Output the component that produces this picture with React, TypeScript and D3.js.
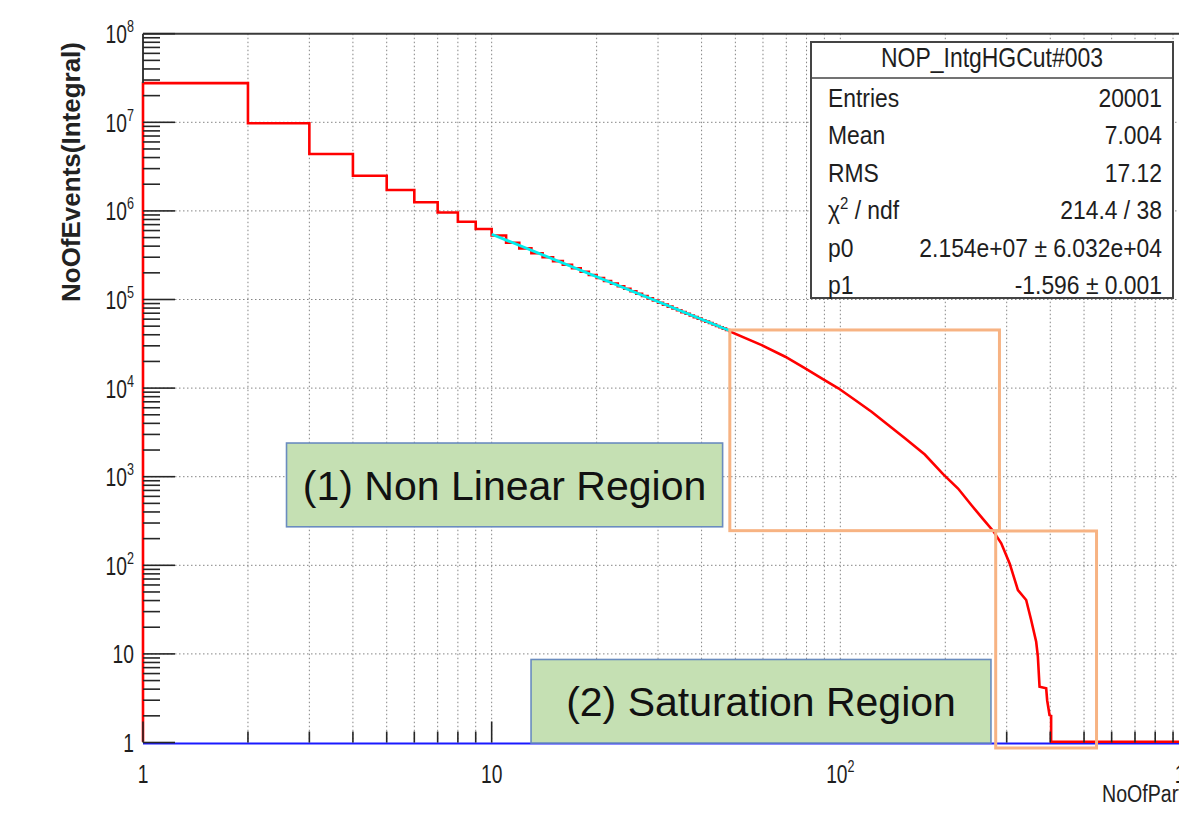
import { useEffect, useRef } from 'react';
import * as d3 from 'd3';

const W = 1179;
const H = 821;

// integral histogram, unit-width bins with lower edges 1, 2, ..., 47
const BIN_FIRST_EDGE = 1;
const BIN_COUNTS = [
  27700000, 9750000, 4380000, 2490000, 1720000, 1250000, 960000, 755000, 625000,
  528000, 437000, 378000, 333000, 300000, 271000, 247000, 225000, 206000, 189000,
  175000, 162000, 151000, 141000, 132000, 124000, 116000, 109500, 103000, 97500,
  92000, 87500, 83000, 79000, 75500, 72000, 69000, 66000, 63300, 60800,
  58400, 56200, 54200, 52200, 50300, 48600, 46900, 45300,
];

// past x ~ 48 the bins are narrower than a pixel, so the rest is read as a polyline
const TAIL_X = [48, 59.5, 69.5, 79.3, 88.4, 98.7, 110.2, 122.9, 137.2, 153.2, 174.7, 197.1, 217.6,
  237.5, 256, 274, 289.4, 305.9, 323.1, 341.2, 352.6, 364.5, 368.6, 372.7, 389.4, 391.9,
  398.1, 402.3, 402.3];
const TAIL_Y = [44000, 30600, 22600, 16700, 12900, 9950, 7340, 5420, 3835, 2710, 1780, 1070, 735,
  479, 337, 246, 177, 105, 52.6, 40.6, 24.1, 13.7, 9.3, 4.26, 4.09, 3.0,
  2.04, 2.0, 1];

// power-law fit p0 * x^p1 over [10, 48]
const FIT_P0 = 2.154e7;
const FIT_P1 = -1.596;
const FIT_RANGE = [10, 48];

const STATS_TITLE = 'NOP_IntgHGCut#003';
const STATS_LABELS = ['Entries', 'Mean', 'RMS', 'chi2', 'p0', 'p1'];
const STATS_VALUES = ['20001', '7.004', '17.12', '214.4 / 38', '2.154e+07 ± 6.032e+04', '-1.596 ± 0.001'];

// annotation boxes, in data coordinates
const REGION_LABELS = ['(1) Non Linear Region', '(2) Saturation Region'];
const REGION_X = [[2.58, 45.96], [12.97, 270.4]];
const REGION_Y = [[272, 2399], [0.987, 8.65]];
const HIGHLIGHT_X = [[48.2, 286], [279, 543]];
const HIGHLIGHT_Y = [[246, 45300], [0.867, 244]];

const X_TITLE = 'NoOfParticles';
const Y_TITLE = 'NoOfEvents(Integral)';

const FONT = '"Liberation Sans", Arial, sans-serif';

export default function App() {
  const ref = useRef<SVGSVGElement>(null);

  useEffect(() => {
    const svg = d3.select(ref.current);
    svg.selectAll('*').remove();

    const left = 143, right = 1189, top = 33.7, bottom = 742.5;
    const x = d3.scaleLog().domain([1, 1000]).range([left, right]);
    const y = d3.scaleLog().domain([1, 1e8]).range([bottom, top]);

    svg.append('rect').attr('width', W).attr('height', H).attr('fill', '#fff');

    const xTicks: { v: number; major: boolean }[] = [];
    for (let d = 0; d < 3; d++) for (let m = 1; m <= 9; m++) xTicks.push({ v: m * 10 ** d, major: m === 1 });
    xTicks.push({ v: 1000, major: true });
    const yTicks: { v: number; major: boolean }[] = [];
    for (let d = 0; d < 8; d++) for (let m = 1; m <= 9; m++) yTicks.push({ v: m * 10 ** d, major: m === 1 });
    yTicks.push({ v: 1e8, major: true });

    // dotted grid
    const grid = svg.append('g').attr('stroke', '#858585').attr('stroke-width', 1).attr('stroke-dasharray', '1.5,2.5');
    xTicks.filter((t) => t.v > 1 && t.v < 1000).forEach((t) => {
      grid.append('line').attr('x1', x(t.v)).attr('x2', x(t.v)).attr('y1', top).attr('y2', bottom);
    });
    yTicks.filter((t) => t.major && t.v > 1 && t.v < 1e8).forEach((t) => {
      grid.append('line').attr('x1', left).attr('x2', right).attr('y1', y(t.v)).attr('y2', y(t.v));
    });

    // blue histogram sitting on the minimum
    svg.append('line')
      .attr('x1', left).attr('x2', right)
      .attr('y1', y(1) + 1).attr('y2', y(1) + 1)
      .attr('stroke', '#1a1aff').attr('stroke-width', 2.2);

    // red integral histogram
    const pts: [number, number][] = [[BIN_FIRST_EDGE, 1]];
    BIN_COUNTS.forEach((c, i) => {
      pts.push([BIN_FIRST_EDGE + i, c]);
      pts.push([BIN_FIRST_EDGE + i + 1, c]);
    });
    TAIL_X.forEach((tx, i) => pts.push([tx, TAIL_Y[i]]));
    pts.push([1000, 1]);
    const line = d3.line<[number, number]>().x((d) => x(d[0])).y((d) => y(d[1]) - (d[1] === 1 ? 0.8 : 0));
    svg.append('path')
      .datum(pts)
      .attr('d', line)
      .attr('fill', 'none')
      .attr('stroke', '#ff0000')
      .attr('stroke-width', 2.6)
      .attr('stroke-linejoin', 'miter');

    // fit
    const fitPts: [number, number][] = FIT_RANGE.map((v) => [v, FIT_P0 * Math.pow(v, FIT_P1)]);
    svg.append('path')
      .datum(fitPts)
      .attr('d', d3.line<[number, number]>().x((d) => x(d[0])).y((d) => y(d[1])))
      .attr('fill', 'none')
      .attr('stroke', '#00eeee')
      .attr('stroke-width', 2.8);

    // frame
    const frame = svg.append('g').attr('stroke', '#3a3a3a').attr('fill', 'none');
    frame.append('line').attr('x1', left).attr('x2', right).attr('y1', top).attr('y2', top).attr('stroke-width', 2);
    frame.append('line').attr('x1', left).attr('x2', left).attr('y1', top).attr('y2', y(BIN_COUNTS[0])).attr('stroke-width', 2);

    // ticks
    const ticks = svg.append('g').attr('stroke', '#262626').attr('stroke-width', 1.6);
    yTicks.forEach((t) => {
      const len = t.major ? 32 : 17;
      ticks.append('line').attr('x1', left).attr('x2', left + len).attr('y1', y(t.v)).attr('y2', y(t.v));
    });
    xTicks.forEach((t) => {
      const len = t.major ? 21 : 11;
      ticks.append('line').attr('x1', x(t.v)).attr('x2', x(t.v)).attr('y1', bottom).attr('y2', bottom - len);
    });

    // tick labels: "1", "10", "10^n"
    const powLabel = (px: number, py: number, n: number, anchor: string) => {
      const t = svg.append('text')
        .attr('transform', `translate(${px},${py}) scale(0.74,1)`)
        .attr('text-anchor', anchor)
        .attr('font-family', FONT)
        .attr('font-size', 26)
        .attr('fill', '#1e1e1e');
      if (n === 0) t.text('1');
      else if (n === 1) t.text('10');
      else {
        t.append('tspan').text('10');
        t.append('tspan').attr('font-size', 17).attr('dy', -11).text(String(n));
      }
    };
    for (let n = 0; n <= 8; n++) powLabel(134, y(10 ** n) + 9.5, n, 'end');
    for (let n = 0; n <= 3; n++) powLabel(x(10 ** n), 783, n, 'middle');

    // axis titles
    svg.append('text')
      .attr('transform', `translate(1102,802) scale(0.8,1)`)
      .attr('font-family', FONT).attr('font-size', 24.5).attr('fill', '#222')
      .text(X_TITLE);
    svg.append('text')
      .attr('transform', 'translate(80,42) rotate(-90)')
      .attr('text-anchor', 'end')
      .attr('font-family', FONT).attr('font-size', 26).attr('font-weight', 'bold').attr('fill', '#222')
      .text(Y_TITLE);

    // stats box
    const sb = { x0: 811, x1: 1173, y0: 42, y1: 298, sep: 78 };
    const stats = svg.append('g');
    stats.append('rect')
      .attr('x', sb.x0).attr('y', sb.y0).attr('width', sb.x1 - sb.x0).attr('height', sb.y1 - sb.y0)
      .attr('fill', '#fff').attr('stroke', '#444').attr('stroke-width', 2);
    stats.append('line').attr('x1', sb.x0).attr('x2', sb.x1).attr('y1', sb.sep).attr('y2', sb.sep)
      .attr('stroke', '#444').attr('stroke-width', 1.5);
    stats.append('text')
      .attr('transform', `translate(${(sb.x0 + sb.x1) / 2},67) scale(0.82,1)`)
      .attr('text-anchor', 'middle')
      .attr('font-family', FONT).attr('font-size', 28).attr('fill', '#1e1e1e')
      .text(STATS_TITLE);
    STATS_LABELS.forEach((lab, i) => {
      const by = 107 + i * 37.4;
      const lt = stats.append('text')
        .attr('transform', `translate(828,${by}) scale(0.88,1)`)
        .attr('font-family', FONT).attr('font-size', 26).attr('fill', '#1e1e1e');
      if (lab === 'chi2') {
        lt.append('tspan').text('χ');
        lt.append('tspan').attr('font-size', 17).attr('dy', -10).text('2');
        lt.append('tspan').attr('dy', 10).text(' / ndf');
      } else lt.text(lab);
      stats.append('text')
        .attr('transform', `translate(1162,${by}) scale(0.88,1)`)
        .attr('text-anchor', 'end')
        .attr('font-family', FONT).attr('font-size', 26).attr('fill', '#1e1e1e')
        .text(STATS_VALUES[i]);
    });

    // orange highlight boxes
    HIGHLIGHT_X.forEach((hx, i) => {
      const hy = HIGHLIGHT_Y[i];
      svg.append('rect')
        .attr('x', x(hx[0])).attr('y', y(hy[1]))
        .attr('width', x(hx[1]) - x(hx[0])).attr('height', y(hy[0]) - y(hy[1]))
        .attr('fill', 'none').attr('stroke', '#f7b383').attr('stroke-width', 3);
    });

    // green region labels
    REGION_LABELS.forEach((lab, i) => {
      const rx = REGION_X[i], ry = REGION_Y[i];
      const x0 = x(rx[0]), x1 = x(rx[1]), y0 = y(ry[1]), y1 = y(ry[0]);
      svg.append('rect')
        .attr('x', x0).attr('y', y0).attr('width', x1 - x0).attr('height', y1 - y0)
        .attr('fill', '#c5e0b3').attr('stroke', '#6a8cbf').attr('stroke-width', 1.6);
      svg.append('text')
        .attr('x', (x0 + x1) / 2).attr('y', (y0 + y1) / 2 + 15)
        .attr('text-anchor', 'middle')
        .attr('font-family', FONT).attr('font-size', 41).attr('fill', '#111')
        .text(lab);
    });
  }, []);

  return (
    <svg
      ref={ref}
      width={W}
      height={H}
      style={{ position: 'absolute', left: 0, top: 0, display: 'block', overflow: 'hidden' }}
    />
  );
}
